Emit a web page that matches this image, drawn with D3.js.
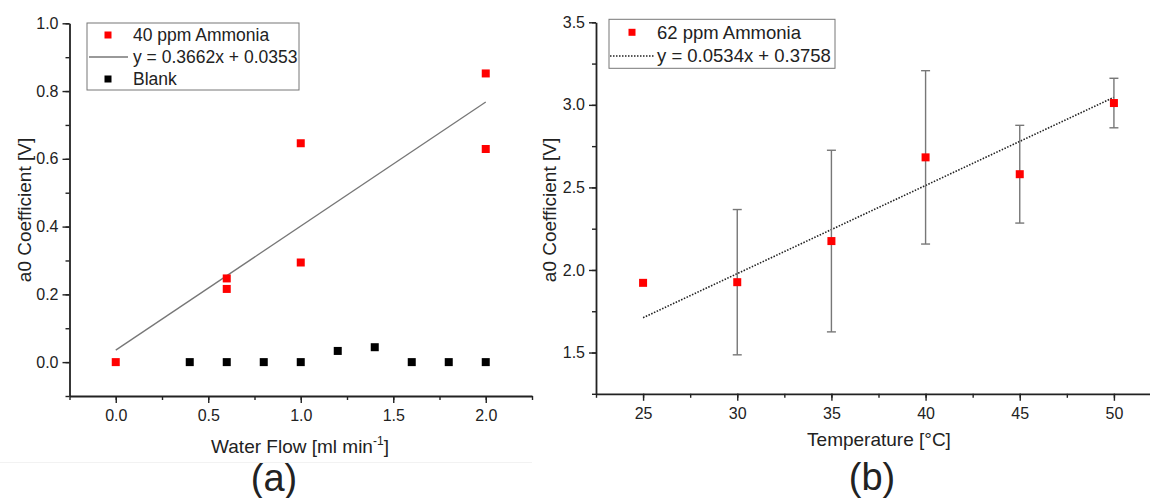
<!DOCTYPE html>
<meta charset="utf-8">
<script src="https://d3js.org/d3.v7.min.js"></script>
<style>
  body { margin: 0; background: #fff; }
  text { font-family: Arial, "Liberation Sans", sans-serif; fill: #222; }
</style>
<div id="chart"></div>
<script>
// ---- panel (a) data ----
var flowAmmonia = [0, 0.6, 0.6, 1.0, 1.0, 2.0, 2.0];
var a0Ammonia   = [0, 0.247, 0.216, 0.646, 0.294, 0.852, 0.629];
var flowBlank   = [0.4, 0.6, 0.8, 1.0, 1.2, 1.4, 1.6, 1.8, 2.0];
var a0Blank     = [0, 0, 0, 0, 0.033, 0.044, 0, 0, 0];
var fitA = {slope: 0.3662, intercept: 0.0353, from: 0, to: 2};
var ticksAx = [0.0, 0.5, 1.0, 1.5, 2.0];
var ticksAy = [0.0, 0.2, 0.4, 0.6, 0.8, 1.0];

// ---- panel (b) data ----
var temps   = [25, 30, 35, 40, 45, 50];
var a0Temp  = [1.922, 1.926, 2.175, 2.682, 2.580, 3.011];
var errTemp = [0, 0.44, 0.55, 0.525, 0.296, 0.15];
var fitB = {slope: 0.0534, intercept: 0.3758, from: 25, to: 50};
var ticksBx = [25, 30, 35, 40, 45, 50];
var ticksBy = [1.5, 2.0, 2.5, 3.0, 3.5];

var svg = d3.select("#chart").append("svg")
  .attr("width", 1150).attr("height", 498);

function drawAxes(x, y, xt, yt, xminor, yminor, fmtX, fmtY) {
  var g = svg.append("g");
  var y0 = y.range()[0], x0 = x.range()[0];
  g.append("g").attr("transform", "translate(0," + y0 + ")")
    .call(d3.axisBottom(x).tickValues(xminor).tickSize(4).tickFormat(""))
    .call(function(s) { s.select(".domain").remove(); });
  g.append("g").attr("transform", "translate(" + x0 + ",0)")
    .call(d3.axisLeft(y).tickValues(yminor).tickSize(4).tickFormat(""))
    .call(function(s) { s.select(".domain").remove(); });
  g.append("g").attr("transform", "translate(0," + y0 + ")")
    .call(d3.axisBottom(x).tickValues(xt).tickSize(7).tickSizeOuter(0).tickPadding(7).tickFormat(fmtX));
  g.append("g").attr("transform", "translate(" + x0 + ",0)")
    .call(d3.axisLeft(y).tickValues(yt).tickSize(7).tickSizeOuter(0).tickPadding(4).tickFormat(fmtY));
  g.selectAll(".domain").attr("stroke-width", 1.8).attr("stroke", "#222");
  g.selectAll(".tick line").attr("stroke-width", 1.4).attr("stroke", "#222");
  g.selectAll(".tick text").style("font-size", "16px")
    .style("font-family", "Arial, 'Liberation Sans', sans-serif").attr("fill", "#222");
}

// faint scan line under panel (a)
svg.append("line").attr("x1", 0).attr("x2", 532).attr("y1", 462.5).attr("y2", 462.5)
  .attr("stroke", "#f2f2f2").attr("stroke-width", 1);

// ================= panel (a) =================
var xa = d3.scaleLinear().domain([-0.25, 2.25]).range([69.5, 532]);
var ya = d3.scaleLinear().domain([-0.1, 1.0]).range([396, 23.3]);
drawAxes(xa, ya, ticksAx, ticksAy,
  d3.range(-0.25, 2.26, 0.25), d3.range(-0.1, 1.001, 0.1),
  d3.format(".1f"), d3.format(".1f"));

svg.append("line")
  .attr("x1", xa(fitA.from)).attr("y1", ya(fitA.slope * fitA.from + fitA.intercept))
  .attr("x2", xa(fitA.to)).attr("y2", ya(fitA.slope * fitA.to + fitA.intercept))
  .attr("stroke", "#777").attr("stroke-width", 1.3);

var ms = 8;
svg.append("g").selectAll("rect").data(flowBlank.map(function(d, i) { return [d, a0Blank[i]]; }))
  .enter().append("rect")
  .attr("x", function(d) { return xa(d[0]) - ms / 2; })
  .attr("y", function(d) { return ya(d[1]) - ms / 2; })
  .attr("width", ms).attr("height", ms).attr("fill", "#000");
svg.append("g").selectAll("rect").data(flowAmmonia.map(function(d, i) { return [d, a0Ammonia[i]]; }))
  .enter().append("rect")
  .attr("x", function(d) { return xa(d[0]) - ms / 2; })
  .attr("y", function(d) { return ya(d[1]) - ms / 2; })
  .attr("width", ms).attr("height", ms).attr("fill", "#f00");

// legend (a)
var la = svg.append("g");
la.append("rect").attr("x", 87).attr("y", 23).attr("width", 212).attr("height", 67)
  .attr("fill", "#fff").attr("stroke", "#777").attr("stroke-width", 1);
la.append("rect").attr("x", 104.5).attr("y", 31.5).attr("width", 7).attr("height", 7).attr("fill", "#f00");
la.append("line").attr("x1", 89).attr("x2", 128).attr("y1", 57).attr("y2", 57).attr("stroke", "#777").attr("stroke-width", 1.3);
la.append("rect").attr("x", 104.5).attr("y", 75.5).attr("width", 7).attr("height", 7).attr("fill", "#000");
["40 ppm Ammonia", "y = 0.3662x + 0.0353", "Blank"].forEach(function(t, i) {
  la.append("text").attr("x", 133).attr("y", 35 + i * 22).attr("dy", "0.35em")
    .style("font-size", "17.5px").text(t);
});

svg.append("text").attr("transform", "translate(31,210) rotate(-90)")
  .attr("text-anchor", "middle").style("font-size", "19px").text("a0 Coefficient [V]");
var xla = svg.append("text").attr("x", 300).attr("y", 453).attr("text-anchor", "middle").style("font-size", "19px");
xla.append("tspan").text("Water Flow [ml min");
xla.append("tspan").attr("dy", -8).style("font-size", "12px").text("-1");
xla.append("tspan").attr("dy", 8).text("]");
svg.append("text").attr("x", 274).attr("y", 491).attr("text-anchor", "middle")
  .style("font-size", "38px").text("(a)");

// ================= panel (b) =================
var xb = d3.scaleLinear().domain([22.5, 52.5]).range([596, 1161]);
var yb = d3.scaleLinear().domain([1.25, 3.5]).range([393.8, 22.3]);
drawAxes(xb, yb, ticksBx, ticksBy,
  d3.range(22.5, 52.6, 2.5), d3.range(1.25, 3.51, 0.25),
  d3.format("d"), d3.format(".1f"));

svg.append("line")
  .attr("x1", xb(fitB.from)).attr("y1", yb(fitB.slope * fitB.from + fitB.intercept))
  .attr("x2", xb(fitB.to)).attr("y2", yb(fitB.slope * fitB.to + fitB.intercept))
  .attr("stroke", "#222").attr("stroke-width", 1.6).attr("stroke-dasharray", "1.5,1.5");

var eb = svg.append("g").attr("stroke", "#777").attr("stroke-width", 1.4);
temps.forEach(function(t, i) {
  if (!errTemp[i]) return;
  var cx = xb(t), top = yb(a0Temp[i] + errTemp[i]), bot = yb(a0Temp[i] - errTemp[i]);
  eb.append("line").attr("x1", cx).attr("x2", cx).attr("y1", top).attr("y2", bot);
  eb.append("line").attr("x1", cx - 4.5).attr("x2", cx + 4.5).attr("y1", top).attr("y2", top);
  eb.append("line").attr("x1", cx - 4.5).attr("x2", cx + 4.5).attr("y1", bot).attr("y2", bot);
});
svg.append("g").selectAll("rect").data(temps.map(function(d, i) { return [d, a0Temp[i]]; }))
  .enter().append("rect")
  .attr("x", function(d) { return xb(d[0]) - ms / 2; })
  .attr("y", function(d) { return yb(d[1]) - ms / 2; })
  .attr("width", ms).attr("height", ms).attr("fill", "#f00");

// legend (b)
var lb = svg.append("g");
lb.append("rect").attr("x", 609).attr("y", 19.3).attr("width", 226).attr("height", 49)
  .attr("fill", "#fff").attr("stroke", "#777").attr("stroke-width", 1);
lb.append("rect").attr("x", 628.5).attr("y", 28.8).attr("width", 7).attr("height", 7).attr("fill", "#f00");
lb.append("line").attr("x1", 610).attr("x2", 655).attr("y1", 56).attr("y2", 56)
  .attr("stroke", "#222").attr("stroke-width", 1.6).attr("stroke-dasharray", "1.5,1.5");
["62 ppm Ammonia", "y = 0.0534x + 0.3758"].forEach(function(t, i) {
  lb.append("text").attr("x", 657).attr("y", 33 + i * 23).attr("dy", "0.35em")
    .style("font-size", "18.5px").text(t);
});

svg.append("text").attr("transform", "translate(556,210) rotate(-90)")
  .attr("text-anchor", "middle").style("font-size", "19px").text("a0 Coefficient [V]");
svg.append("text").attr("x", 879).attr("y", 446).attr("text-anchor", "middle")
  .style("font-size", "19px").text("Temperature [°C]");
svg.append("text").attr("x", 872).attr("y", 490).attr("text-anchor", "middle")
  .style("font-size", "38px").text("(b)");
</script>
